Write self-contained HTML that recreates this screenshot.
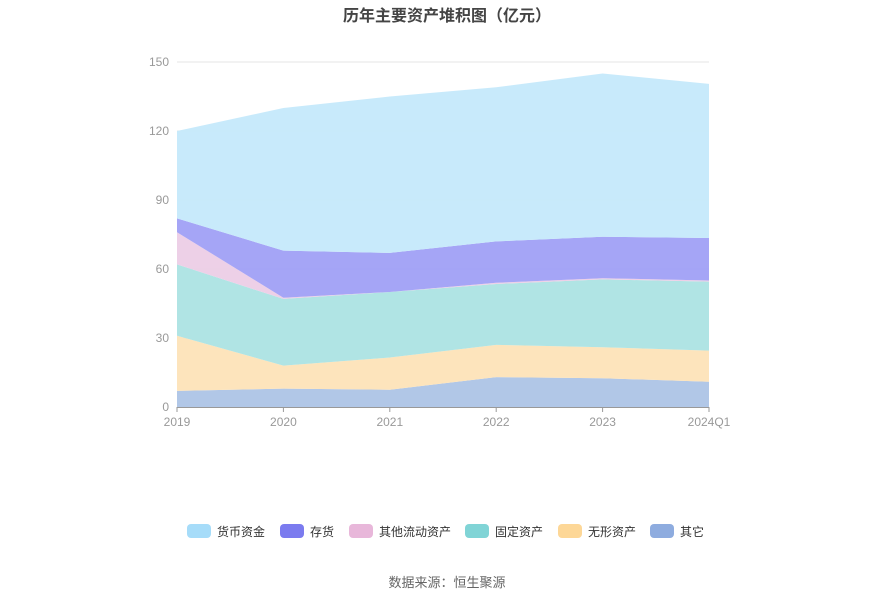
<!DOCTYPE html>
<html><head><meta charset="utf-8"><style>
body{margin:0;background:#fff;font-family:"Liberation Sans","Noto Sans CJK SC",sans-serif;}
svg text{font-family:"Liberation Sans","Noto Sans CJK SC",sans-serif;}
</style></head><body>
<svg id="chart" width="893" height="603" xmlns="http://www.w3.org/2000/svg">
<text x="447" y="21" text-anchor="middle" font-size="16" font-weight="bold" fill="#444">历年主要资产堆积图（亿元）</text>
<g id="grid"></g><g id="areas"></g><g id="axes"></g><g id="legend"></g>
<text x="447" y="587" text-anchor="middle" font-size="13" fill="#666">数据来源：恒生聚源</text>
</svg>
<script>
const categories=["2019","2020","2021","2022","2023","2024Q1"];
const seriesNames=["其它","无形资产","固定资产","其他流动资产","存货","货币资金"];
const other=[7,8,7.5,13,12.5,11];
const intangible=[24,10,14,14,13.5,13.5];
const fixed=[31,29,28.5,26.5,29.5,30];
const otherCurrent=[14,0.5,0,0.5,0.5,0.5];
const inventory=[6,20.5,17,18,18,18.5];
const cash=[38,62,68,67,71,67];
const yTicks=[0,30,60,90,120,150];
const series=[other,intangible,fixed,otherCurrent,inventory,cash];
const fills=["#adc4e6","#fde3b8","#ace3e3","#eccde6","#a0a0f5","#c5e9fb"];
const legendColors=["#8eacdf","#fdd797","#80d4d6","#e8b7da","#7b7bef","#a6dcf9"];
const names=["other","intangible","fixed","other-current","inventory","cash"];
const x0=177,x1=709,y0=407,y1=62;
const xs=i=>x0+(x1-x0)*i/(categories.length-1);
const ys=v=>y0-(y0-y1)*v/150;
const NS="http://www.w3.org/2000/svg";
function mk(t,a,p){const e=document.createElementNS(NS,t);for(const k in a)e.setAttribute(k,a[k]);p.appendChild(e);return e;}
const grid=document.getElementById('grid'),areas=document.getElementById('areas'),axes=document.getElementById('axes'),legend=document.getElementById('legend');
yTicks.forEach(t=>{
 if(t>0){const l=mk('line',{x1:x0,x2:x1,y1:ys(t),y2:ys(t),stroke:'#e6e6e6'},grid);
 
 }
 const tx=mk('text',{x:169,y:ys(t)+4,'text-anchor':'end','font-size':12,fill:'#999'},axes);tx.textContent=t;
 
 
});
let base=categories.map(()=>0);
series.forEach((s,k)=>{
 const top=base.map((b,i)=>b+s[i]);
 let d='';top.forEach((v,i)=>d+=(i?'L':'M')+xs(i)+','+ys(v));
 for(let i=top.length-1;i>=0;i--)d+='L'+xs(i)+','+ys(base[i]);
 const p=mk('path',{d:d+'Z',fill:fills[k],'fill-opacity':0.95},areas);
 
 
 base=top;
});
const ax=mk('line',{x1:x0,x2:x1,y1:y0+0.5,y2:y0+0.5,stroke:'#999'},axes);


categories.forEach((c,i)=>{
 const tk=mk('line',{x1:xs(i),x2:xs(i),y1:y0,y2:y0+5,stroke:'#999'},axes);
 
 
 const tx=mk('text',{x:xs(i),y:426,'text-anchor':'middle','font-size':12,fill:'#999'},axes);tx.textContent=c;
 
 
});
const order=[5,4,3,2,1,0];const lx=[187,280,349,465,558,650];
order.forEach((k,j)=>{
 const g=mk('g',{},legend);
 
 
 mk('rect',{x:lx[j],y:524,width:24,height:14,rx:4,fill:legendColors[k]},g);
 const t=mk('text',{x:lx[j]+30,y:536,'font-size':12,fill:'#333'},g);t.textContent=seriesNames[k];
});
</script>
</body></html>
